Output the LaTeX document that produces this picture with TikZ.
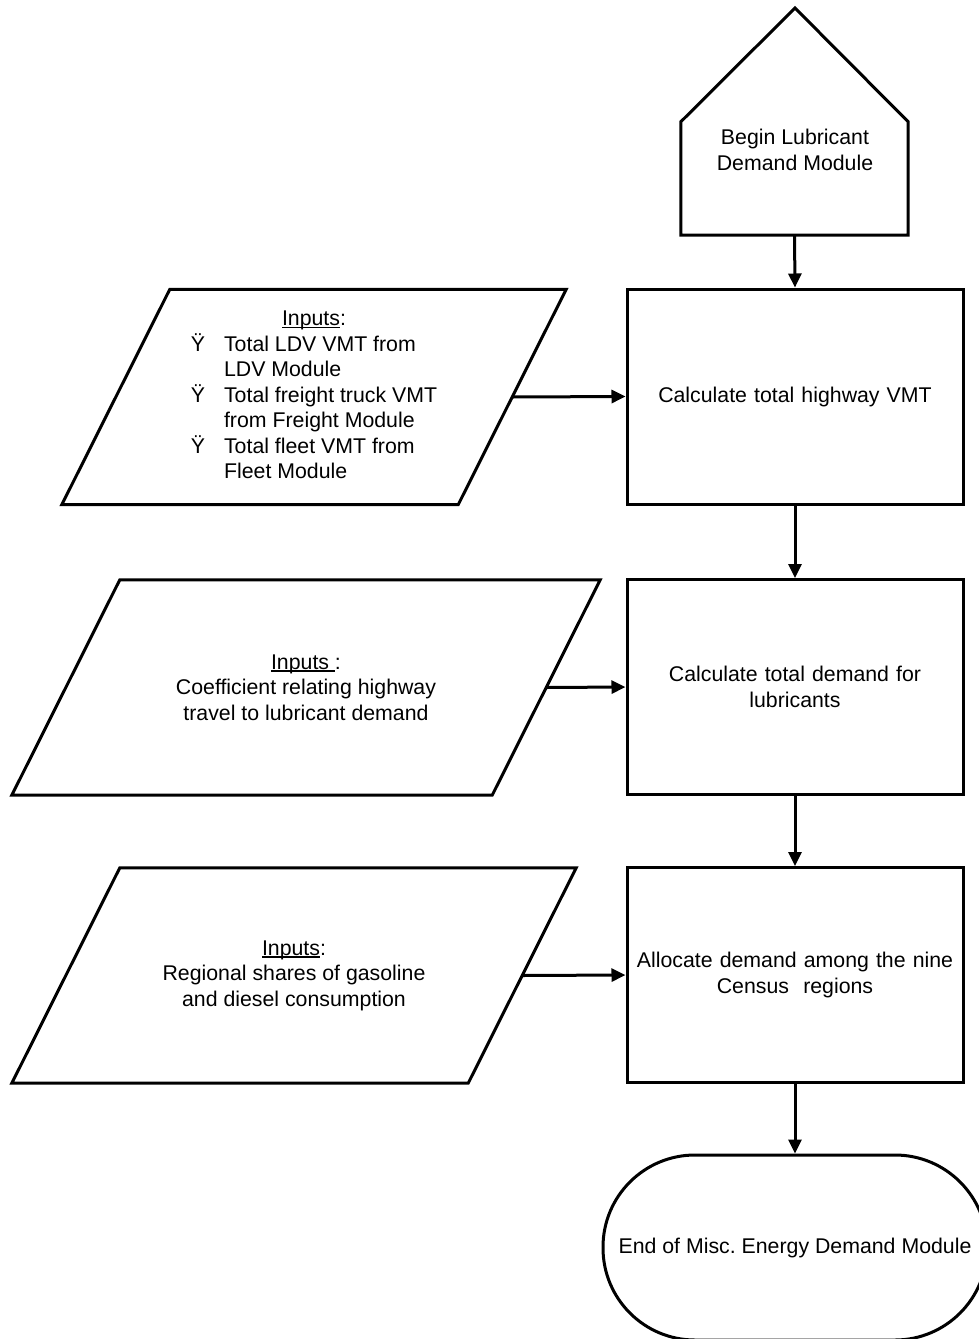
\documentclass[tikz,border=0pt]{standalone}
\usepackage{fontspec}
\setmainfont{Liberation Sans}
\usetikzlibrary{shapes.geometric,arrows.meta,positioning}
\newcommand{\drawinput}[1]{\draw[flow] ([xshift=54pt]#1.north west) -- ([xshift=54pt]#1.north east) -- ([xshift=-54pt]#1.south east) -- ([xshift=-54pt]#1.south west) -- cycle;}
\newcommand{\inunder}[1]{{\setbox0\hbox{#1}\rlap{\rule[-2.6pt]{\wd0}{1.4pt}}\box0}}

\begin{document}
\begin{tikzpicture}[x=1pt,y=-1pt,
	every node/.style={font=\fontsize{21.3}{25.5}\selectfont},
	flow/.style={line width=3pt},
	arr/.style={flow,-{Triangle[length=14pt,width=13pt]}},
	procbox/.style={draw,flow,rectangle,minimum width=336pt,minimum height=215pt,inner sep=0pt,align=center,text width=326pt},
	inbox/.style={rectangle,minimum height=215pt,inner sep=0pt,align=center},
	termbox/.style={draw,flow,rectangle,rounded corners=92pt,minimum width=384pt,minimum height=185pt,inner sep=0pt}]
	\useasboundingbox (0,0) rectangle (979,1339);
	\clip (0,0) rectangle (979,1339);
	% start
	\coordinate (apex) at (795,8);
	\node[inner sep=0pt, minimum width=227pt, minimum height=113pt] (begin) at (794.5,178.5) {};
	\draw[flow] (begin.south west) -- (begin.north west) -- (apex) -- (begin.north east) -- (begin.south east) -- cycle;
	\node[align=center] (begintxt) at (795,150) {Begin Lubricant\\Demand Module};
	% steps
	\node[procbox] (vmt) at (795,396.5) {Calculate total highway VMT};
	\node[procbox] (lubdem) at (795,687) {Calculate total demand for\\lubricants};
	\node[procbox] (alloc) at (795,975) {Allocate demand among the nine\\Census~ regions};
	\node[termbox] (endmod) at (795,1247.5) {End of Misc.\ Energy Demand Module};
	% inputs
	\node[inbox, minimum width=396pt] (in1) at (314,397) {\begin{tabular}{@{}l@{\hspace{19pt}}l@{}}
		\multicolumn{2}{c}{\inunder{Inputs}:}\\
		Ÿ & Total LDV VMT from\\
		  & LDV Module\\
		Ÿ & Total freight truck VMT\\
		  & from Freight Module\\
		Ÿ & Total fleet VMT from\\
		  & Fleet Module
	\end{tabular}};
	\node[inbox, minimum width=480pt] (in2) at (306,687.5) {\inunder{Inputs }:\\Coefficient relating highway\\travel to lubricant demand};
	\node[inbox, minimum width=456pt] (in3) at (294,975.5) {\inunder{Inputs}:\\Regional shares of gasoline\\and diesel consumption};
	\drawinput{in1}
	\drawinput{in2}
	\drawinput{in3}
	% arrows
	\draw[arr] (begin.south) -- (vmt.north);
	\draw[arr] (vmt.south) -- (lubdem.north);
	\draw[arr] (lubdem.south) -- (alloc.north);
	\draw[arr] (alloc.south) -- (endmod.north);
	\draw[arr] (in1.east) -- (vmt.west);
	\draw[arr] (in2.east) -- (lubdem.west);
	\draw[arr] (in3.east) -- (alloc.west);
\end{tikzpicture}
\end{document}
